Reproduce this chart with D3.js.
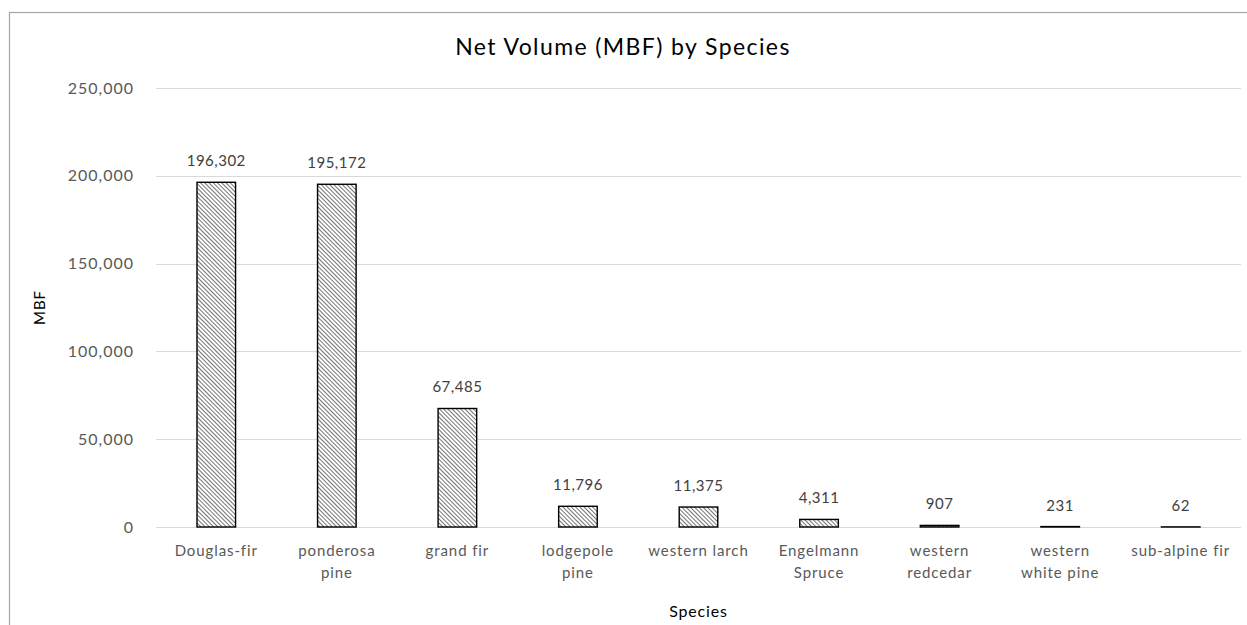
<!DOCTYPE html>
<html><head><meta charset="utf-8">
<script src="https://cdn.jsdelivr.net/npm/d3@7"></script>
<style>body{margin:0;background:#fff;} text{font-family:Lato,"Open Sans",sans-serif;}</style>
</head><body>
<svg id="c" width="1247" height="625"></svg>
<script>
const categories = [["Douglas-fir"],["ponderosa","pine"],["grand fir"],["lodgepole","pine"],["western larch"],["Engelmann","Spruce"],["western","redcedar"],["western","white pine"],["sub-alpine fir"]];
const values = [196302,195172,67485,11796,11375,4311,907,231,62];
const yTicks = [0,50000,100000,150000,200000,250000];

const svg = d3.select("#c");
const m = {l:156, r:1241, t:88, b:527};
const ids = categories.map((c,i)=>i);
const x = d3.scaleBand().domain(ids).range([m.l,m.r]).paddingInner(0.68).paddingOuter(0.34);
const y = d3.scaleLinear().domain([0,250000]).range([m.b,m.t]);
const fmt = d3.format(",");

// chart frame
svg.append("rect").attr("x",9.5).attr("y",12.5).attr("width",1260).attr("height",640)
  .attr("fill","none").attr("stroke","#a6a6a6").attr("stroke-width",1.2);

const defs = svg.append("defs");
const pat = defs.append("pattern").attr("id","hatch").attr("patternUnits","userSpaceOnUse")
  .attr("width",3).attr("height",3).attr("patternTransform","rotate(-45)");
pat.append("rect").attr("width",3).attr("height",3).attr("fill","#fff");
pat.append("line").attr("x1",0).attr("y1",0).attr("x2",0).attr("y2",3).attr("stroke","#000").attr("stroke-width",1.1);

// gridlines
svg.append("g").selectAll("line").data(yTicks).join("line")
  .attr("x1",m.l).attr("x2",m.r).attr("y1",d=>Math.round(y(d))+0.5).attr("y2",d=>Math.round(y(d))+0.5)
  .attr("stroke","#d9d9d9").attr("stroke-width",1.2);

// y axis labels
const ya = svg.append("g").attr("transform",`translate(${m.l-19},0)`)
  .call(d3.axisLeft(y).tickValues(yTicks).tickFormat(fmt).tickSize(0));
ya.select(".domain").remove();
ya.selectAll("text").attr("font-size",16).attr("letter-spacing",1).attr("fill","#595959")
  .attr("font-family","Lato,'Open Sans',sans-serif");

// bars
svg.append("g").selectAll("rect").data(values).join("rect")
  .attr("x",(d,i)=>x(i)).attr("width",x.bandwidth())
  .attr("y",d=>y(d)).attr("height",d=>Math.max(0,y(0)-y(d)))
  .attr("fill","url(#hatch)").attr("stroke","#000").attr("stroke-width",1.4);

// data labels
svg.append("g").selectAll("text").data(values).join("text")
  .attr("x",(d,i)=>x(i)+x.bandwidth()/2).attr("y",d=>y(d)-16)
  .attr("text-anchor","middle").attr("font-size",15).attr("letter-spacing",0.5).attr("fill","#404040").text(d=>fmt(d));

// x axis labels
const xl = svg.append("g").selectAll("text").data(categories).join("text")
  .attr("x",(d,i)=>x(i)+x.bandwidth()/2).attr("y",556)
  .attr("text-anchor","middle").attr("font-size",15).attr("letter-spacing",0.9).attr("fill","#595959");
xl.each(function(d){
  const t=d3.select(this);
  d.forEach((s,j)=>t.append("tspan").attr("x",t.attr("x")).attr("dy",j?22:0).text(s));
});

// titles
svg.append("text").attr("x",623).attr("y",55).attr("text-anchor","middle")
  .attr("font-size",23).attr("letter-spacing",1.4).attr("fill","#000").text("Net Volume (MBF) by Species");
svg.append("text").attr("x",(m.l+m.r)/2).attr("y",617).attr("text-anchor","middle")
  .attr("font-size",16).attr("letter-spacing",0.8).attr("fill","#000").text("Species");
svg.append("text").attr("transform",`translate(45,${(m.t+m.b)/2}) rotate(-90)`).attr("text-anchor","middle")
  .attr("font-size",15).attr("letter-spacing",1).attr("fill","#000").text("MBF");
</script>
</body></html>
